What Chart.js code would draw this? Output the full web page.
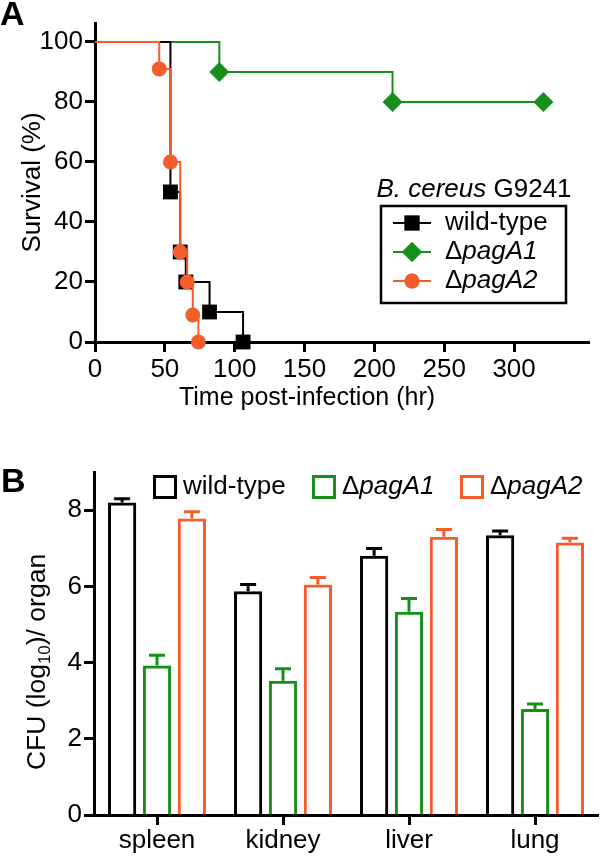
<!DOCTYPE html>
<html>
<head>
<meta charset="utf-8">
<script src="https://cdn.jsdelivr.net/npm/chart.js@4.4.1/dist/chart.umd.min.js"></script>
<style>
  html, body { margin: 0; padding: 0; background: #fff; }
  #wrap { position: relative; width: 600px; height: 856px; }
  canvas { position: absolute; left: 0; }
  #survival { top: 0; }
  #cfu { top: 420px; }
</style>
</head>
<body>
<div id="wrap">
  <canvas id="survival" width="600" height="420"></canvas>
  <canvas id="cfu" width="600" height="436"></canvas>
</div>
<script>
// Panel A: survival curves (hours post-infection, % survival)
const timeWT = [0, 54, 61, 65, 82, 106];
const survWT = [100, 50, 30, 20, 10, 0];
const timeA1 = [0, 89, 213, 321];
const survA1 = [100, 90, 80, 80];
const timeA2 = [0, 46, 54, 61, 66, 70, 74];
const survA2 = [100, 91, 60, 30, 20, 9, 0];

// Panel B: CFU (log10) per organ, mean and upper error
const organs = ['spleen', 'kidney', 'liver', 'lung'];
const cfuWT = [8.2, 5.87, 6.8, 7.34];
const errWT = [0.1, 0.18, 0.19, 0.11];
const cfuA1 = [3.92, 3.52, 5.33, 2.78];
const errA1 = [0.27, 0.32, 0.35, 0.13];
const cfuA2 = [7.78, 6.05, 7.3, 7.15];
const errA2 = [0.18, 0.18, 0.19, 0.11];

const BLACK = '#000000';
const GREEN = '#15901a';
const ORANGE = '#f55c2b';
const FAM = '"Liberation Sans", Arial, Helvetica, sans-serif';
const font = { family: FAM, size: 26 };

Chart.defaults.font.family = FAM;
Chart.defaults.color = BLACK;

const pts = (xs, ys) => xs.map((x, i) => ({ x: x, y: ys[i] }));
// no marker on the starting 100% point
const radii = (xs, r) => xs.map((x, i) => (i === 0 ? 0 : r));

function mixedText(ctx, parts, x, y, size) {
    // parts: [text, italic] ; left aligned from x
    parts.forEach(([t, it]) => {
        ctx.font = `${it ? 'italic ' : ''}${size || 25}px ${FAM}`;
        ctx.fillText(t, x, y);
        x += ctx.measureText(t).width;
    });
}
function mixedWidth(ctx, parts, size) {
    let w = 0;
    parts.forEach(([t, it]) => {
        ctx.font = `${it ? 'italic ' : ''}${size || 25}px ${FAM}`;
        w += ctx.measureText(t).width;
    });
    return w;
}

const labelsA = [
    { parts: [['wild-type', false]], color: BLACK, style: 'rect', r: 10.5 },
    { parts: [['\u0394', false], ['pagA1', true]], color: GREEN, style: 'rectRot', r: 10 },
    { parts: [['\u0394', false], ['pagA2', true]], color: ORANGE, style: 'circle', r: 7.5 }
];

// legend box + titles + panel letter for A
const survivalDecor = {
    id: 'survivalDecor',
    afterDraw(chart) {
        const { ctx } = chart;
        ctx.save();
        ctx.fillStyle = BLACK;
        ctx.textBaseline = 'alphabetic';
        ctx.font = `bold 34px ${FAM}`;
        ctx.fillText('A', 0, 25);

        ctx.textBaseline = 'middle';
        ctx.textAlign = 'center';
        ctx.font = `25px ${FAM}`;
        ctx.fillText('Time post-infection (hr)', 307, 398);
        ctx.textAlign = 'left';

        const title = [['B. cereus', true], [' G9241', false]];
        const tw = mixedWidth(ctx, title, 26);
        mixedText(ctx, title, 474 - tw / 2, 190, 26);

        ctx.lineWidth = 2.5;
        ctx.strokeStyle = BLACK;
        ctx.strokeRect(381, 206, 185, 97);

        const rows = [223, 252, 281];
        labelsA.forEach((l, i) => {
            const y = rows[i];
            ctx.strokeStyle = l.color;
            ctx.lineWidth = 2;
            ctx.beginPath();
            ctx.moveTo(393, y);
            ctx.lineTo(431, y);
            ctx.stroke();
            ctx.fillStyle = l.color;
            Chart.helpers.drawPoint(ctx, { pointStyle: l.style, radius: l.r, rotation: 0, borderWidth: 0 }, 412, y);
            ctx.fill();
            ctx.fillStyle = BLACK;
            mixedText(ctx, l.parts, 445, y, 26);
        });
        ctx.restore();
    }
};

const lineSet = (label, xs, ys, color, style, r, order) => ({
    label: label,
    data: pts(xs, ys),
    stepped: true,
    borderColor: color,
    borderWidth: 2,
    backgroundColor: color,
    pointStyle: style,
    pointRadius: radii(xs, r),
    pointBackgroundColor: color,
    pointBorderWidth: 0,
    pointHoverRadius: 0,
    clip: false,
    fill: false,
    order: order
});

new Chart(document.getElementById('survival'), {
    type: 'line',
    data: {
        datasets: [
            lineSet('wild-type', timeWT, survWT, BLACK, 'rect', 10.5, 1),
            lineSet('\u0394pagA1', timeA1, survA1, GREEN, 'rectRot', 10, 2),
            lineSet('\u0394pagA2', timeA2, survA2, ORANGE, 'circle', 7.5, 0)
        ]
    },
    options: {
        responsive: false,
        animation: false,
        layout: { padding: { top: 23, right: 0, left: 0, bottom: 0 } },
        plugins: { legend: { display: false }, tooltip: { enabled: false } },
        scales: {
            x: {
                type: 'linear', min: 0, max: 354,
                afterFit: s => { s.height = 78; },
                afterBuildTicks: s => { s.ticks = s.ticks.filter(t => t.value <= 300); },
                ticks: { stepSize: 50, includeBounds: false, color: BLACK, font: font, padding: 2, maxRotation: 0 },
                grid: { drawOnChartArea: false, tickLength: 10, tickWidth: 3, color: BLACK },
                border: { color: BLACK, width: 3 }
            },
            y: {
                min: 0, max: 106.3,
                afterFit: s => { s.width = 95; },
                ticks: { stepSize: 20, includeBounds: false, color: BLACK, font: font, padding: 2 },
                grid: { drawOnChartArea: false, tickLength: 10, tickWidth: 3, color: BLACK },
                border: { color: BLACK, width: 3 },
                title: { display: true, text: 'Survival (%)', color: BLACK, font: { family: FAM, size: 26 }, padding: { top: 17, bottom: 0 } }
            }
        }
    },
    plugins: [survivalDecor]
});

// Panel B
const errs = [errWT, errA1, errA2];
const labelsB = [
    { parts: [['wild-type', false]], color: BLACK, x: 153 },
    { parts: [['\u0394', false], ['pagA1', true]], color: GREEN, x: 312 },
    { parts: [['\u0394', false], ['pagA2', true]], color: ORANGE, x: 460 }
];

const cfuDecor = {
    id: 'cfuDecor',
    afterDatasetsDraw(chart) {
        const { ctx } = chart;
        const y = chart.scales.y;
        ctx.save();
        chart.data.datasets.forEach((ds, i) => {
            ctx.strokeStyle = ds.borderColor;
            ctx.lineWidth = 3;
            chart.getDatasetMeta(i).data.forEach((bar, j) => {
                const top = y.getPixelForValue(ds.data[j] + errs[i][j]);
                ctx.beginPath();
                ctx.moveTo(bar.x, bar.y);
                ctx.lineTo(bar.x, top);
                ctx.moveTo(bar.x - 8, top);
                ctx.lineTo(bar.x + 8, top);
                ctx.stroke();
            });
        });
        ctx.restore();
    },
    afterDraw(chart) {
        const { ctx } = chart;
        ctx.save();
        ctx.fillStyle = BLACK;
        ctx.textBaseline = 'alphabetic';
        ctx.font = `bold 34px ${FAM}`;
        ctx.fillText('B', 1, 72);

        // legend
        ctx.textBaseline = 'middle';
        labelsB.forEach(l => {
            ctx.strokeStyle = l.color;
            ctx.lineWidth = 3;
            ctx.strokeRect(l.x + 1.5, 56.5, 21, 21);
            ctx.fillStyle = BLACK;
            mixedText(ctx, l.parts, l.x + 30, 67, 26);
        });

        // y title with subscript
        const a = 'CFU (log', sub = '10', b = ')/ organ';
        ctx.font = `26.5px ${FAM}`;
        const wa = ctx.measureText(a).width, wb = ctx.measureText(b).width;
        ctx.font = `17px ${FAM}`;
        const ws = ctx.measureText(sub).width;
        const total = wa + ws + wb;
        ctx.translate(38, 242);
        ctx.rotate(-Math.PI / 2);
        let x = -total / 2;
        ctx.font = `26.5px ${FAM}`;
        ctx.fillText(a, x, 0);
        x += wa;
        ctx.font = `17px ${FAM}`;
        ctx.fillText(sub, x, 7);
        x += ws;
        ctx.font = `26.5px ${FAM}`;
        ctx.fillText(b, x, 0);
        ctx.restore();
    }
};

const barSet = (label, data, color) => ({
    label: label,
    data: data,
    borderColor: color,
    backgroundColor: 'rgba(255,255,255,0)',
    borderWidth: 3,
    categoryPercentage: 0.83,
    barPercentage: 0.81
});

new Chart(document.getElementById('cfu'), {
    type: 'bar',
    data: {
        labels: organs,
        datasets: [
            barSet('wild-type', cfuWT, BLACK),
            barSet('\u0394pagA1', cfuA1, GREEN),
            barSet('\u0394pagA2', cfuA2, ORANGE)
        ]
    },
    options: {
        responsive: false,
        animation: false,
        layout: { padding: { top: 52, right: 2, left: 0, bottom: 0 } },
        plugins: { legend: { display: false }, tooltip: { enabled: false } },
        scales: {
            x: {
                afterFit: s => { s.height = 41; },
                ticks: { color: BLACK, font: font, padding: 0, maxRotation: 0 },
                grid: { drawOnChartArea: false, offset: false, tickLength: 10, tickWidth: 3, color: BLACK },
                border: { color: BLACK, width: 3 }
            },
            y: {
                min: 0, max: 9,
                afterFit: s => { s.width = 94; },
                ticks: { stepSize: 2, includeBounds: false, color: BLACK, font: font, padding: 2 },
                grid: { drawOnChartArea: false, tickLength: 10, tickWidth: 3, color: BLACK },
                border: { color: BLACK, width: 3 }
            }
        }
    },
    plugins: [cfuDecor]
});
</script>
</body>
</html>
